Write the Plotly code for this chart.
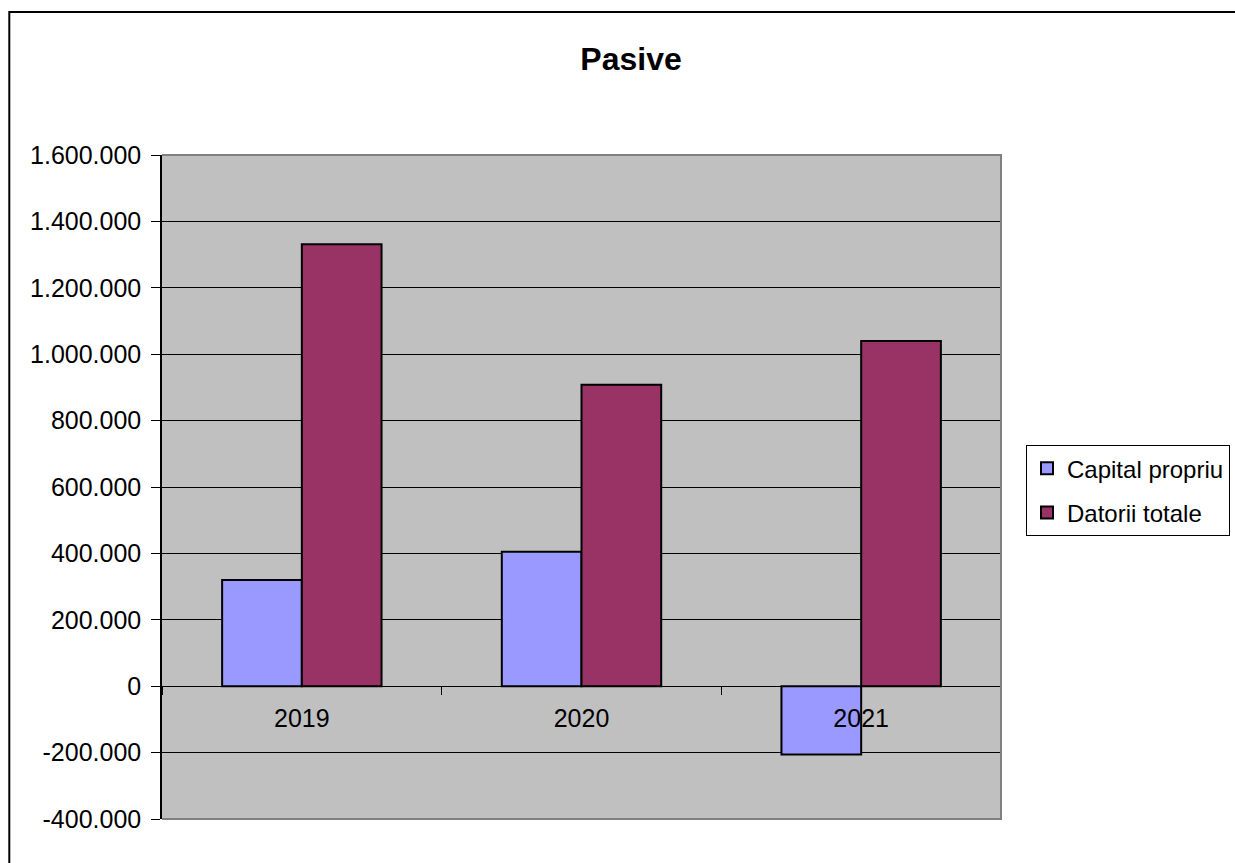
import plotly.graph_objects as go

# Balance-sheet liabilities by year
years = ["2019", "2020", "2021"]
capital_propriu = [320000, 405000, -206000]
datorii_totale = [1331000, 908000, 1040000]

y_ticks = list(range(-400000, 1600001, 200000))
y_tick_text = [f"{v:,}".replace(",", ".") for v in y_ticks]

FONT = "Liberation Sans, Arial, sans-serif"

fig = go.Figure()
fig.add_trace(go.Bar(
    name="Capital propriu", x=years, y=capital_propriu, legendgroup="cp",
    marker=dict(color="#9999FF", line=dict(color="black", width=2)),
))
fig.add_trace(go.Bar(
    name="Datorii totale", x=years, y=datorii_totale, legendgroup="dt",
    marker=dict(color="#993366", line=dict(color="black", width=2)),
))

fig.update_layout(
    width=1235, height=863,
    margin=dict(l=162, r=234, t=155, b=44, autoexpand=False),
    paper_bgcolor="white",
    plot_bgcolor="#C0C0C0",
    barmode="group",
    bargap=0.43,
    bargroupgap=0,
    font=dict(family=FONT, color="black", size=24),
    title=dict(
        text="<b>Pasive</b>", x=0.511, xref="container", xanchor="center",
        y=0.932, yref="container", yanchor="middle",
        font=dict(family=FONT, size=32, color="black"),
    ),
    xaxis=dict(
        anchor="free", position=0.2,
        showline=True, linecolor="black", linewidth=1,
        ticks="outside", ticklen=8, tickcolor="black", tickson="boundaries",
        showgrid=False, zeroline=False,
        tickfont=dict(size=25),
        ticklabelstandoff=10,
    ),
    yaxis=dict(
        range=[-400000, 1600000],
        tickvals=y_ticks, ticktext=y_tick_text,
        showline=True, linecolor="black", linewidth=1.5,
        ticks="outside", ticklen=9, tickcolor="black",
        showgrid=True, gridcolor="black", gridwidth=1,
        zeroline=False,
        tickfont=dict(size=25),
        ticklabelstandoff=5,
    ),
    legend=dict(
        x=1.0298, y=0.563, xanchor="left", yanchor="top",
        bgcolor="white", bordercolor="black", borderwidth=1,
        font=dict(family=FONT, size=24, color="black"),
        traceorder="grouped", tracegroupgap=10,
        itemwidth=30,
    ),
    showlegend=True,
)

# Plot-area frame (top, right, bottom) and outer chart border
fig.add_shape(type="path", xref="paper", yref="paper",
              path="M 0,1 L 1,1 L 1,0 L 0,0",
              line=dict(color="#808080", width=2), layer="above")
fig.add_shape(type="rect", xref="paper", yref="paper",
              x0=-0.182, x1=1.4, y0=-0.2, y1=1.2154,
              line=dict(color="black", width=2), fillcolor="rgba(0,0,0,0)",
              layer="below")

fig.write_html("out.html")
